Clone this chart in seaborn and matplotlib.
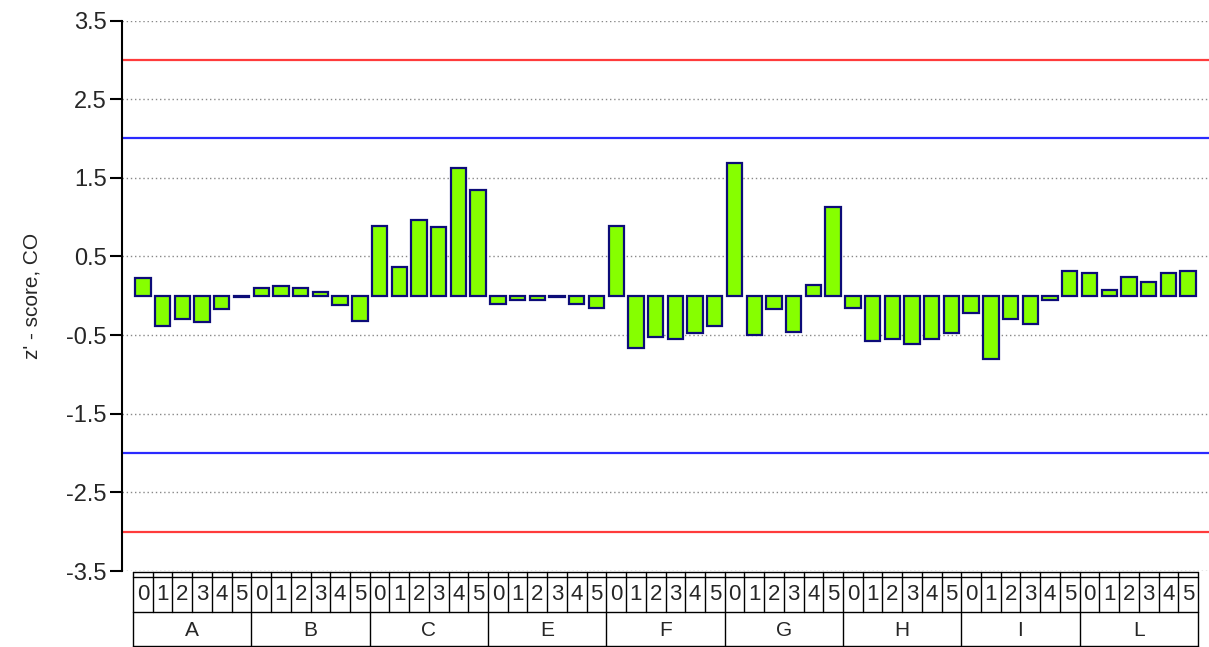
import numpy as np
import pandas as pd
import seaborn as sns
import matplotlib.pyplot as plt

# groups and sub-labels
groups = ["A", "B", "C", "E", "F", "G", "H", "I", "L"]
subs = ["0", "1", "2", "3", "4", "5"]

# z'-scores, one list per group
vals_A = [0.22, -0.38, -0.29, -0.34, -0.17, -0.02]
vals_B = [0.10, 0.12, 0.10, 0.05, -0.12, -0.32]
vals_C = [0.89, 0.36, 0.96, 0.87, 1.63, 1.35]
vals_E = [-0.10, -0.05, -0.05, -0.02, -0.10, -0.15]
vals_F = [0.89, -0.66, -0.53, -0.55, -0.48, -0.38]
vals_G = [1.69, -0.50, -0.17, -0.46, 0.14, 1.13]
vals_H = [-0.15, -0.58, -0.55, -0.61, -0.55, -0.48]
vals_I = [-0.22, -0.80, -0.29, -0.36, -0.05, 0.31]
vals_L = [0.29, 0.07, 0.24, 0.17, 0.29, 0.31]

all_vals = [vals_A, vals_B, vals_C, vals_E, vals_F, vals_G, vals_H, vals_I, vals_L]

rows = []
for g, vs in zip(groups, all_vals):
    for s, v in zip(subs, vs):
        rows.append({"key": g + s, "group": g, "sub": s, "z": v})
df = pd.DataFrame(rows)

sns.set_style("white")
plt.rcParams["font.family"] = ["Liberation Sans", "DejaVu Sans"]

W, H = 1209, 647
fig = plt.figure(figsize=(W / 100, H / 100), dpi=100)
ax_left, ax_right, ax_top, ax_bot = 122, 1209, 20.5, 571
ax = fig.add_axes([ax_left / W, (H - ax_bot) / H, (ax_right - ax_left) / W, (ax_bot - ax_top) / H])

sns.barplot(data=df, x="key", y="z", order=df["key"], color="#86ff00", saturation=1,
            edgecolor="#0c0c78", linewidth=1.6, width=0.78, ax=ax, zorder=3)

n = len(df)
ax.set_xlim(-1.06, n - 1 + 0.5 + 0.56)
ax.set_ylim(-3.5, 3.5)
ticks = np.arange(-3.5, 3.6, 1.0)
ax.set_yticks(ticks)
ax.set_yticklabels([f"{t:.1f}" for t in ticks], fontsize=17)
ax.tick_params(axis="y", direction="out", length=9, width=1.5, color="black", pad=2, left=True)
ax.set_xticks([])
ax.set_xlabel("")
ax.set_ylabel("z' - score, CO", fontsize=15, labelpad=18)

for y in ticks:
    ax.axhline(y, color="#888888", lw=1, ls=(0, (1, 2)), zorder=1)
for y in [3, -3]:
    ax.axhline(y, color="#ff3b3b", lw=1.6, zorder=2)
for y in [2, -2]:
    ax.axhline(y, color="#2a2aff", lw=1.6, zorder=2)

for side in ["top", "right", "bottom"]:
    ax.spines[side].set_visible(False)
ax.spines["left"].set_color("black")
ax.spines["left"].set_linewidth(1.5)

# category table below the axis
tr = ax.get_xaxis_transform()
hpx = ax_bot - ax_top
f = lambda px: (ax_bot - px) / hpx
x0, x1 = -0.5, n - 0.5
for py in [572, 577, 612, 646]:
    ax.plot([x0, x1], [f(py), f(py)], transform=tr, color="black", lw=1, clip_on=False)
for k in range(n + 1):
    ax.plot([k - 0.5, k - 0.5], [f(572), f(612)], transform=tr, color="black", lw=1, clip_on=False)
for gi in range(len(groups) + 1):
    xg = gi * len(subs) - 0.5
    ax.plot([xg, xg], [f(612), f(647)], transform=tr, color="black", lw=1, clip_on=False)
for k, s in enumerate(df["sub"]):
    ax.text(k, f(595), s, transform=tr, ha="center", va="center", fontsize=16, clip_on=False)
for gi, g in enumerate(groups):
    xc = gi * len(subs) + (len(subs) - 1) / 2
    ax.text(xc, f(630), g, transform=tr, ha="center", va="center", fontsize=15, clip_on=False)

fig.savefig("out.png", dpi=100)
